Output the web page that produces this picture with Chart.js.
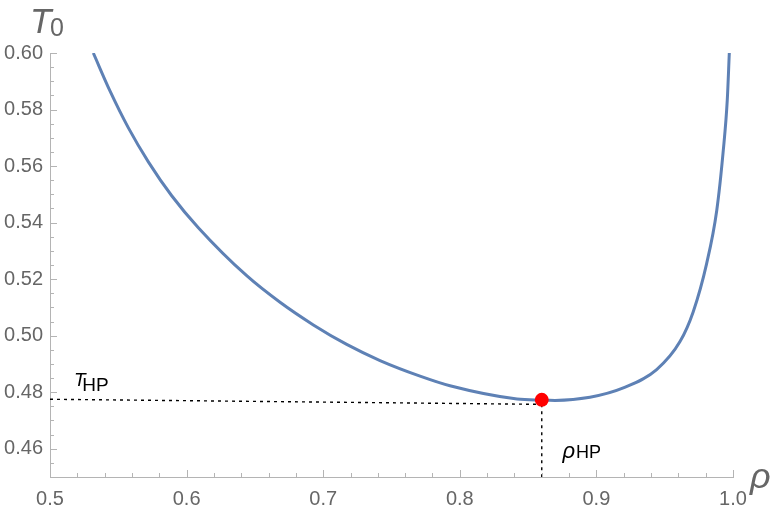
<!DOCTYPE html>
<html>
<head>
<meta charset="UTF-8">
<title>T0 vs rho</title>
<script src="https://cdn.jsdelivr.net/npm/chart.js@4.4.0/dist/chart.umd.min.js"></script>
<style>
body{margin:0;background:#fff}
#box{width:775px;height:513px}
</style>
</head>
<body>
<div id="box"><canvas id="c" width="775" height="513"></canvas></div>
<script>
/* curve */
const rho = [0.5317,0.5439,0.5573,0.5720,0.5891,0.6086,0.6440,0.6684,0.6928,0.7172,0.7416,0.7709,0.7928,0.8419,0.8602,0.8697,0.8953,0.9197,0.9441,0.9612,0.9709,0.9807,0.9881,0.9929,0.9958,0.9973];
const T0  = [0.6000,0.5866,0.5736,0.5615,0.5495,0.5382,0.5212,0.5118,0.5038,0.4969,0.4912,0.4857,0.4823,0.4776,0.4772,0.4771,0.4782,0.4815,0.4880,0.4979,0.5085,0.5255,0.5443,0.5656,0.5833,0.6000];

/* HP point and guide lines */
const hpRho = 0.86, hpT = 0.4773;
const hLineX = [0.5, 0.86],  hLineY = [0.4775, 0.4757];
const vLineX = [0.86, 0.86], vLineY = [0.4757, 0.45];

const xTickStep = 0.02, yTickStep = 0.005;

const pts = (xs,ys)=>xs.map((x,i)=>({x:x,y:ys[i]}));
const isMult = (v,m)=>Math.abs(v/m - Math.round(v/m)) < 1e-6;

const axisGray = '#b4b4b4';
const labelGray = '#666';
const FONT = '"Liberation Sans", Arial, sans-serif';

/* ticks drawn inside the plot, Mathematica style */
const innerTicks = {
  id:'innerTicks',
  afterDraw(ch){
    const ctx = ch.ctx, xs = ch.scales.x, ys = ch.scales.y, a = ch.chartArea;
    ctx.save();
    ctx.strokeStyle = axisGray; ctx.lineWidth = 1;
    ys.ticks.forEach(t=>{
      const p = Math.round(ys.getPixelForValue(t.value)) + .5;
      const len = isMult(t.value,0.02) ? 7 : 4;
      ctx.beginPath(); ctx.moveTo(a.left, p); ctx.lineTo(a.left+len, p); ctx.stroke();
    });
    xs.ticks.forEach(t=>{
      const p = Math.round(xs.getPixelForValue(t.value)) + .5;
      const len = isMult(t.value,0.1) ? 7 : 4;
      ctx.beginPath(); ctx.moveTo(p, a.bottom); ctx.lineTo(p, a.bottom-len); ctx.stroke();
    });

    /* axis names */
    ctx.fillStyle = labelGray;
    ctx.textBaseline = 'alphabetic'; ctx.textAlign = 'left';
    ctx.font = 'italic 35px ' + FONT;
    ctx.fillText('T', 30, 33);
    ctx.font = '25px ' + FONT;
    ctx.fillText('0', 50, 36);
    ctx.font = 'italic 36px ' + FONT;
    ctx.fillText('\u03C1', 750, 488);

    /* HP labels */
    ctx.fillStyle = '#000';
    ctx.font = 'italic 19px ' + FONT;
    ctx.fillText('T', xs.getPixelForValue(0.5176), ys.getPixelForValue(0.4823));
    ctx.font = '19px ' + FONT;
    ctx.fillText('HP', xs.getPixelForValue(0.5236), ys.getPixelForValue(0.4803));
    ctx.font = 'italic 22px ' + FONT;
    ctx.fillText('\u03C1', xs.getPixelForValue(0.8752), ys.getPixelForValue(0.4567));
    ctx.font = '18px ' + FONT;
    ctx.fillText('HP', xs.getPixelForValue(0.8850), ys.getPixelForValue(0.4567));
    ctx.restore();
  }
};

new Chart(document.getElementById('c'),{
  type:'scatter',
  data:{datasets:[
    {data:[{x:hpRho,y:hpT}], order:0, pointRadius:7, pointHoverRadius:7,
     pointBackgroundColor:'#ff0000', pointBorderWidth:0, showLine:false},
    {data:pts(rho,T0), order:1, borderColor:'#5e81b5', borderWidth:3,
     showLine:true, pointRadius:0, cubicInterpolationMode:'monotone'},
    {data:pts(hLineX,hLineY), order:2, borderColor:'#000', borderWidth:1.4,
     borderDash:[3,4], showLine:true, pointRadius:0},
    {data:pts(vLineX,vLineY), order:2, borderColor:'#000', borderWidth:1.4,
     borderDash:[3,4], showLine:true, pointRadius:0}
  ]},
  options:{
    responsive:false, animation:false, devicePixelRatio:1,
    layout:{padding:{top:53,right:42,left:0,bottom:0}},
    plugins:{legend:{display:false},tooltip:{enabled:false}},
    scales:{
      x:{type:'linear',min:0.5,max:1.0,
         afterFit(s){s.height=36;},
         border:{color:axisGray,width:1},
         grid:{display:true,drawOnChartArea:false,drawTicks:false},
         ticks:{stepSize:xTickStep,autoSkip:false,maxRotation:0,padding:10,
                color:labelGray,font:{size:20,family:FONT},
                callback:v=>isMult(v,0.1)?v.toFixed(1):''}},
      y:{type:'linear',min:0.45,max:0.60,
         afterFit(s){s.width=50;},
         border:{color:axisGray,width:1},
         grid:{display:true,drawOnChartArea:false,drawTicks:false},
         ticks:{stepSize:yTickStep,autoSkip:false,padding:7,
                color:labelGray,font:{size:20,family:FONT},
                callback:v=>(isMult(v,0.02)&&v>0.451)?v.toFixed(2):''}}
    }
  },
  plugins:[innerTicks]
});
</script>
</body>
</html>
